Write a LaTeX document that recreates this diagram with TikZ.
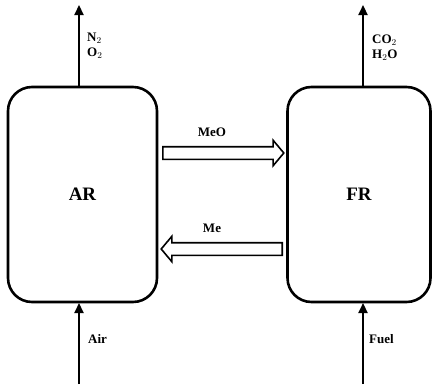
\documentclass[tikz,border=0pt]{standalone}
\usepackage{fontspec}
\setmainfont{Liberation Serif}
\usetikzlibrary{shapes.arrows,arrows.meta}
\begin{document}
\begin{tikzpicture}[x=1pt,y=-1pt,
  reactor/.style={draw,line width=2.6pt,rounded corners=24pt,inner sep=0pt},
  flow/.style={line width=2.2pt,-{Triangle[length=10pt,width=9pt]}},
  hollow/.style={single arrow,draw,line width=1.6pt,minimum height=121pt,inner sep=5.5pt,
    single arrow head extend=6.5pt,single arrow tip angle=100},
  lbl/.style={font=\bfseries\fontsize{13}{14}\selectfont,inner sep=0pt,align=left},
  big/.style={font=\bfseries\fontsize{19}{20}\selectfont}]
\useasboundingbox (0,0) rectangle (435,388);
\node[reactor,minimum width=149pt,minimum height=215pt] (ar) at (82.5,194.5) {};
\node[reactor,minimum width=143pt,minimum height=215pt] (fr) at (359,194.5) {};
\node[big] at (ar.center) {AR};
\node[big] at (fr.center) {FR};
\coordinate (artop) at (79,5);
\coordinate (frtop) at (363,5);
\coordinate (arbot) at (79,384);
\coordinate (frbot) at (363,384);
\draw[flow] (79,87) -- (artop);
\draw[flow] (363,87) -- (frtop);
\draw[flow] (arbot) -- (79,303);
\draw[flow] (frbot) -- (363,303);
\node[lbl,anchor=west] (no) at (87,46) {N$_2$\\[1pt]O$_2$};
\node[lbl,anchor=west] (co) at (372,48) {CO$_2$\\[1pt]H$_2$O};
\node[hollow,anchor=tail] (meo) at (162,153) {};
\node[hollow,shape border rotate=180,anchor=tail] (me) at (283,249) {};
\node[lbl] at (212,132) {MeO};
\node[lbl] at (212,228) {Me};
\node[lbl,anchor=west] at (88,339) {Air};
\node[lbl,anchor=west] at (369,339) {Fuel};
\end{tikzpicture}
\end{document}
